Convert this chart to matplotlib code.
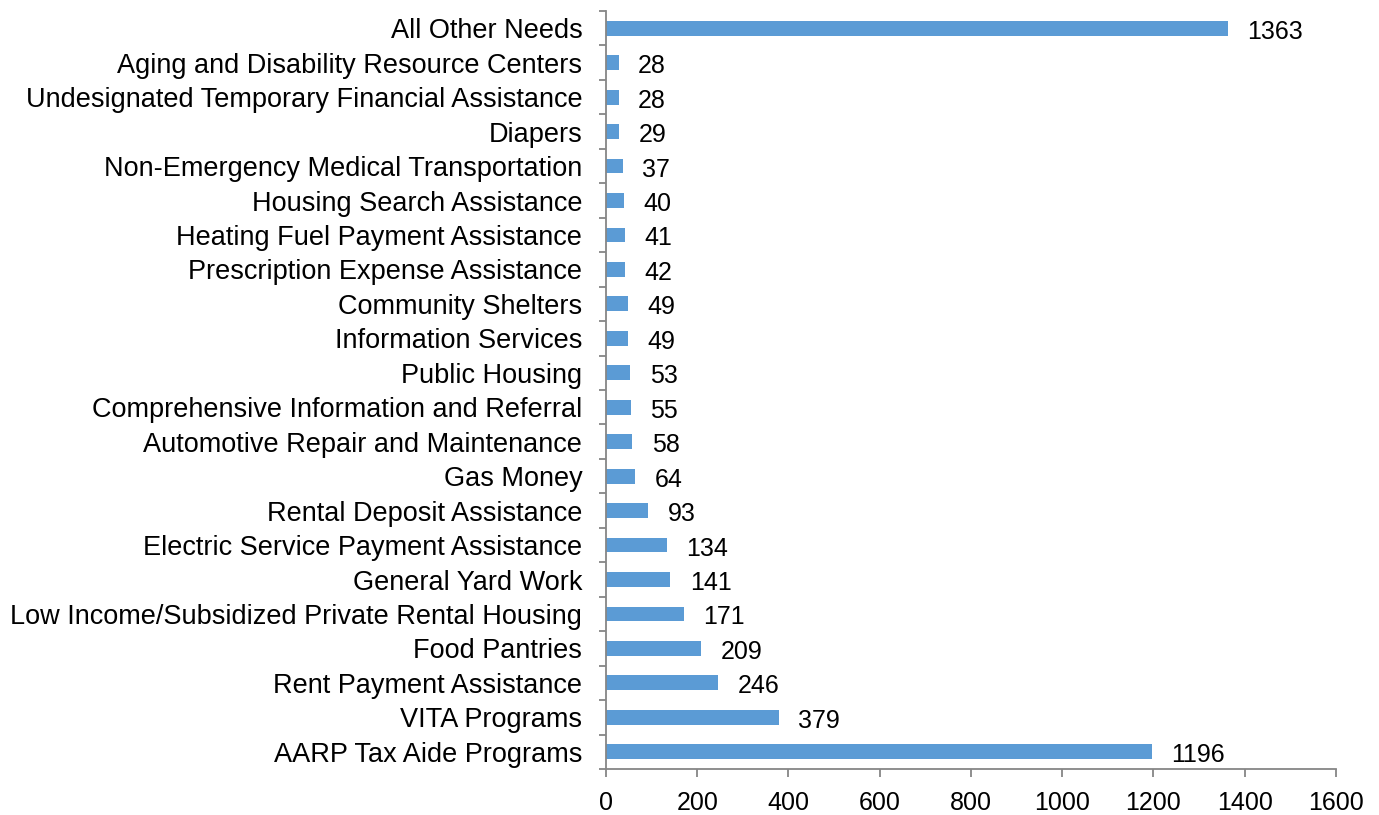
import numpy as np
import matplotlib.pyplot as plt

# categories listed bottom to top, as drawn
categories = [
    'AARP Tax Aide Programs',
    'VITA Programs',
    'Rent Payment Assistance',
    'Food Pantries',
    'Low Income/Subsidized Private Rental Housing',
    'General Yard Work',
    'Electric Service Payment Assistance',
    'Rental Deposit Assistance',
    'Gas Money',
    'Automotive Repair and Maintenance',
    'Comprehensive Information and Referral',
    'Public Housing',
    'Information Services',
    'Community Shelters',
    'Prescription Expense Assistance',
    'Heating Fuel Payment Assistance',
    'Housing Search Assistance',
    'Non-Emergency Medical Transportation',
    'Diapers',
    'Undesignated Temporary Financial Assistance',
    'Aging and Disability Resource Centers',
    'All Other Needs',
]
counts = [1196, 379, 246, 209, 171, 141, 134, 93, 64, 58, 55, 53, 49, 49,
          42, 41, 40, 37, 29, 28, 28, 1363]
x_ticks = [0, 200, 400, 600, 800, 1000, 1200, 1400, 1600]

plt.rcParams['font.family'] = ['Liberation Sans', 'DejaVu Sans']
axis_grey = '#868686'

fig = plt.figure(figsize=(13.79, 8.15), dpi=100)
ax = fig.add_axes([0.4394, 0.0564, 0.5294, 0.9301])

pos = np.arange(len(categories))
ax.barh(pos, counts, height=0.43, color='#5B9BD5')

for p, v in zip(pos, counts):
    ax.annotate(str(v), xy=(v, p), xytext=(14, -2.5), textcoords='offset points',
                ha='left', va='center', fontsize=18, color='black')

ax.set_xlim(0, 1600)
ax.set_ylim(-0.5, len(categories) - 0.5)
ax.set_xticks(x_ticks)
ax.set_yticks(pos)
ax.set_yticklabels(categories)
ax.set_yticks(np.arange(-0.5, len(categories)), minor=True)

for s in ['top', 'right']:
    ax.spines[s].set_visible(False)
for s in ['left', 'bottom']:
    ax.spines[s].set_color(axis_grey)
    ax.spines[s].set_linewidth(1.3)

ax.tick_params(axis='y', which='major', length=0, pad=17, labelsize=19.5)
ax.tick_params(axis='y', which='minor', length=5, width=1.3, color=axis_grey)
ax.tick_params(axis='x', which='major', length=6, width=1.3, color=axis_grey,
               labelsize=18, pad=9.5)

fig.savefig('out.png', dpi=100)
